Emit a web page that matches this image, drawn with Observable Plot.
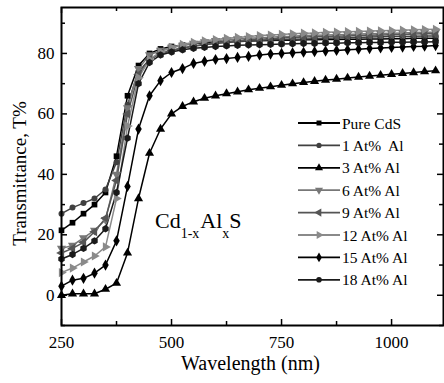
<!DOCTYPE html>
<html><head><meta charset="utf-8">
<script src="https://cdn.jsdelivr.net/npm/d3@7"></script>
<script src="https://cdn.jsdelivr.net/npm/@observablehq/plot@0.6"></script>
<style>body{margin:0;font-size:18px}</style></head><body>
<div id="w" style="position:relative;width:444px;height:383px"></div>
<script>
// ---- data ----
const wavelengths = [250,275,300,325,350,375,400,425,450,475,500,525,550,575,600,625,650,675,700,725,750,775,800,825,850,875,900,925,950,975,1000,1025,1050,1075,1100];
const seriesNames = ["Pure CdS","1 At%  Al","3 At% Al","6 At% Al","9 At% Al","12 At% Al","15 At% Al","18 At% Al"];
const pureCdS = [21.5,24,27,30,34,46,66,76,80,81.5,82.3,82.8,83.2,83.5,83.7,83.9,84,84.1,84.2,84.3,84.4,84.4,84.5,84.5,84.6,84.6,84.7,84.7,84.8,84.8,84.9,84.9,85,85,85];
const al1  = [27,29,30.5,32,35,44,63,74,78,80,81,81.8,82.4,82.9,83.3,83.6,83.9,84.1,84.3,84.5,84.6,84.7,84.8,84.9,85,85.1,85.2,85.3,85.4,85.5,85.6,85.6,85.7,85.8,85.8];
const al3  = [0,0.5,0.5,0.5,2,4,14,32,47,55,60,62.5,64,65.2,66,66.7,67.3,68,68.5,69,69.5,70,70.4,70.8,71.2,71.5,71.9,72.2,72.5,72.8,73.1,73.4,73.7,74,74.3];
const al6  = [15.5,16.5,19,21.5,25,40,62,75,79.5,81,82,82.7,83.3,83.8,84.2,84.5,84.8,85,85.2,85.4,85.6,85.7,85.9,86,86.1,86.2,86.3,86.4,86.5,86.6,86.7,86.8,86.9,87,87];
const al9  = [14,15.5,17.5,21,25.5,38,60,73,78,80,81,81.8,82.5,83,83.5,83.9,84.2,84.5,84.7,84.9,85.1,85.3,85.4,85.5,85.6,85.7,85.8,85.9,86,86.1,86.2,86.3,86.4,86.5,86.5];
const al12 = [7.5,9,11,13,16,32,56,72,78,80.5,82,83,83.7,84.2,84.6,85,85.3,85.6,85.9,86.1,86.3,86.5,86.7,86.8,87,87.1,87.2,87.3,87.4,87.5,87.6,87.7,87.8,87.9,88];
const al15 = [3,5,5.6,7.3,10,18,36,55,66,71,73.7,75,76.7,77.4,78,78.3,78.7,79,79.5,79.8,80,80.2,80.4,80.6,80.8,81,81.2,81.4,81.6,81.8,82,82.1,82.3,82.4,82.6];
const al18 = [12,13.5,15.5,18,22,34,52,70,77,79.5,80.5,81.2,81.7,82,82.3,82.5,82.7,82.8,82.9,83,83.1,83.2,83.3,83.3,83.4,83.4,83.5,83.5,83.6,83.6,83.7,83.7,83.8,83.8,83.9];
const xTicksMajor = [250,500,750,1000];
const xTicksMinor = [375,625,875];
const yTicksMajor = [0,20,40,60,80];
const yTicksMinor = [-10,10,30,50,70,90];

// ---- styling ----
const FONT = "Liberation Serif";
const colors = ["#000","#404040","#000","#777","#555","#8a8a8a","#000","#1a1a1a"];
const symbolNames = ["square","circle","triangle","triangle","triangle","triangle","diamond","hexagon"];
const rotations = [0,0,0,180,-90,90,0,0];
const radii = [3.2,3.0,3.4,3.4,3.4,3.4,3.4,3.2];
const values = [pureCdS, al1, al3, al6, al9, al12, al15, al18];
const tables = values.map((vals, k) => wavelengths.map((w, i) => ({w, t: vals[i]})));

const W = 444, H = 383, mL = 61, mR = 1, mT = 7, mB = 58;
const plotH = H - mT - mB, plotW = W - mL - mR;

const mk = [];
tables.forEach((tb, k) => mk.push(Plot.line(tb, {x: "w", y: "t", stroke: colors[k], strokeWidth: 1.5})));
tables.forEach((tb, k) => mk.push(Plot.dot(tb, {x: "w", y: "t", symbol: symbolNames[k], rotate: rotations[k], fill: colors[k], stroke: "none", r: radii[k]})));
mk.push(Plot.frame({stroke: "black", strokeWidth: 2}));
mk.push(Plot.ruleX(xTicksMajor, {x: d => d, insetTop: plotH - 6, stroke: "black", strokeWidth: 1.5}));
mk.push(Plot.ruleX(xTicksMinor, {x: d => d, insetTop: plotH - 4, stroke: "black", strokeWidth: 1.5}));
mk.push(Plot.ruleX(xTicksMajor, {x: d => d, insetBottom: plotH - 6, stroke: "black", strokeWidth: 1.5}));
mk.push(Plot.ruleX(xTicksMinor, {x: d => d, insetBottom: plotH - 4, stroke: "black", strokeWidth: 1.5}));
mk.push(Plot.ruleY(yTicksMajor, {y: d => d, insetRight: plotW - 6, stroke: "black", strokeWidth: 1.5}));
mk.push(Plot.ruleY(yTicksMinor, {y: d => d, insetRight: plotW - 4, stroke: "black", strokeWidth: 1.5}));
mk.push(Plot.ruleY(yTicksMajor, {y: d => d, insetLeft: plotW - 6, stroke: "black", strokeWidth: 1.5}));
mk.push(Plot.ruleY(yTicksMinor, {y: d => d, insetLeft: plotW - 4, stroke: "black", strokeWidth: 1.5}));
mk.push(Plot.axisX(xTicksMajor, {tickSize: 0, tickPadding: 10, label: null, fontSize: 17, tickFormat: d => String(d)}));
mk.push(Plot.axisY(yTicksMajor, {tickSize: 0, tickPadding: 7, label: null, fontSize: 17, tickFormat: d => String(d)}));
mk.push(Plot.text(["Wavelength (nm)"], {frameAnchor: "bottom", textAnchor: "middle", lineAnchor: "middle", dy: 38, dx: -2, fontSize: 20}));
mk.push(Plot.text(["Transmittance, T%"], {frameAnchor: "left", textAnchor: "middle", lineAnchor: "middle", rotate: -90, dx: -42, dy: 7, fontSize: 19}));

const p = Plot.plot({
  width: W, height: H,
  marginLeft: mL, marginRight: mR, marginTop: mT, marginBottom: mB,
  style: {fontFamily: FONT, fontSize: "17px"},
  x: {domain: [250, 1118]},
  y: {domain: [-10, 95.2]},
  marks: mk
});
const w = document.getElementById("w");
w.appendChild(p);

// ---- legend + annotation overlay ----
const s = d3.select(w).append("svg").attr("width", W).attr("height", H)
  .style("position", "absolute").style("left", "0px").style("top", "0px");
const rowY0 = 123, rowStep = 22.4, lx0 = 298, lx1 = 340;
const legendSym = [d3.symbolSquare, d3.symbolCircle, d3.symbolTriangle, d3.symbolTriangle, d3.symbolTriangle, d3.symbolTriangle, d3.symbolDiamond, d3.symbolCircle];
seriesNames.forEach((name, k) => {
  const y = rowY0 + k * rowStep;
  s.append("line").attr("x1", lx0).attr("x2", lx1).attr("y1", y).attr("y2", y).attr("stroke", colors[k]).attr("stroke-width", 1.8);
  const r = radii[k] - 0.4;
  s.append("path").attr("d", d3.symbol(legendSym[k], r * r * Math.PI)())
    .attr("transform", `translate(${(lx0 + lx1) / 2},${y}) rotate(${rotations[k]})`).attr("fill", colors[k]);
  s.append("text").attr("x", lx1 + 2).attr("y", y + 5.5).attr("font-family", FONT).attr("font-size", 15.5)
    .attr("xml:space", "preserve").style("white-space", "pre").text(name);
});
const ann = s.append("text").attr("x", 155).attr("y", 228).attr("font-family", FONT).attr("font-size", 22);
ann.append("tspan").text("Cd");
ann.append("tspan").attr("dy", 10).attr("font-size", 14).text("1-x");
ann.append("tspan").attr("dy", -10).attr("dx", 1).text("Al");
ann.append("tspan").attr("dy", 10).attr("font-size", 14).text("x");
ann.append("tspan").attr("dy", -10).text("S");
</script>
</body></html>
